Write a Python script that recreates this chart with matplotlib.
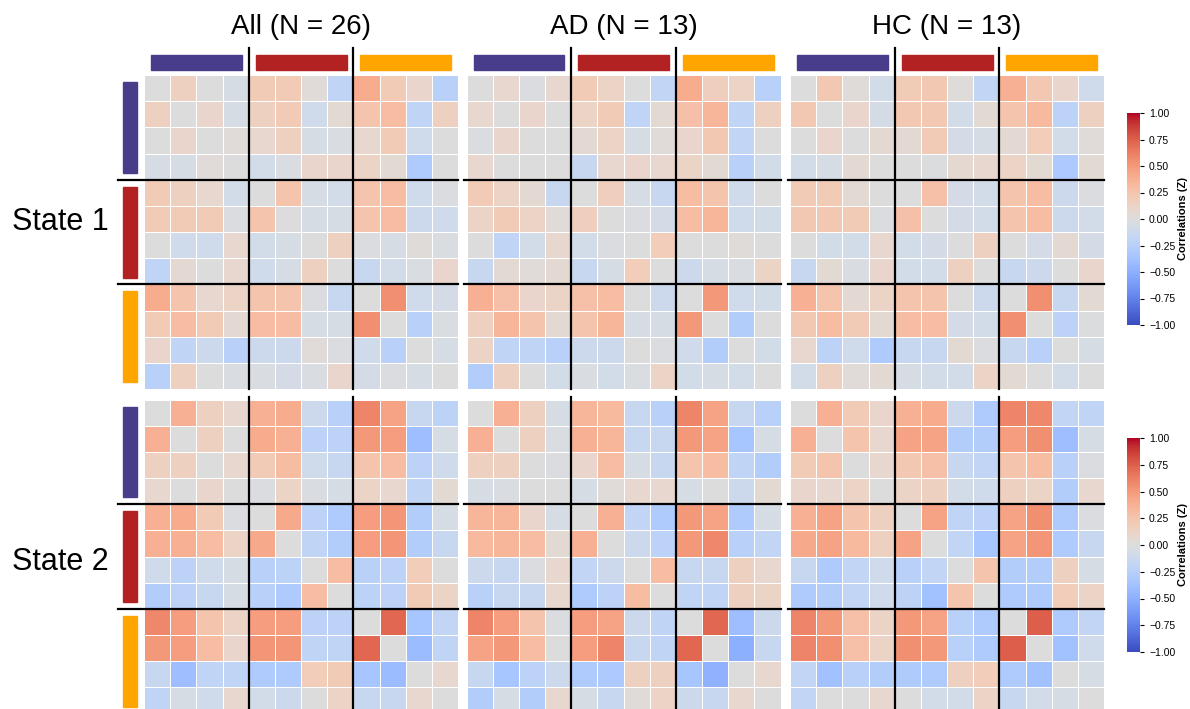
import numpy as np
import matplotlib
matplotlib.use("Agg")
import matplotlib.pyplot as plt
from matplotlib.patches import Rectangle

plt.rcParams['font.family'] = ['Liberation Sans', 'DejaVu Sans']

# group labels / colours for the three networks (4 regions each)
group_colors = ['#483D8B', '#B22222', '#FFA500']
col_titles = ['All (N = 26)', 'AD (N = 13)', 'HC (N = 13)']
row_titles = ['State 1', 'State 2']

# State 1 correlation matrices
s1_all = [
    [0, 0.15, 0, -0.05, 0.2, 0.2, 0.03, -0.2, 0.4, 0.2, 0.1, -0.25],
    [0.15, 0, 0.1, -0.05, 0.15, 0.2, -0.1, 0.05, 0.25, 0.3, -0.2, 0.15],
    [0, 0.1, 0, 0.03, 0.08, 0.15, -0.05, -0.03, 0.08, 0.2, -0.1, 0],
    [-0.05, -0.05, 0.03, 0, -0.08, -0.03, 0.1, 0.1, 0.12, 0.05, -0.3, 0],
    [0.2, 0.15, 0.08, -0.08, 0, 0.25, -0.05, -0.08, 0.25, 0.3, -0.1, -0.02],
    [0.2, 0.2, 0.2, -0.02, 0.25, 0, -0.05, -0.05, 0.25, 0.3, -0.12, -0.1],
    [0, -0.1, -0.1, 0.08, -0.08, -0.05, 0, 0.15, -0.02, -0.05, 0.02, -0.03],
    [-0.2, 0.06, 0, 0.08, -0.1, -0.05, 0.15, 0, -0.15, -0.08, -0.03, 0.1],
    [0.4, 0.25, 0.08, 0.12, 0.25, 0.25, -0.02, -0.15, 0, 0.55, -0.1, -0.07],
    [0.2, 0.3, 0.2, 0.06, 0.3, 0.3, -0.05, -0.05, 0.55, 0, -0.25, -0.03],
    [0.1, -0.2, -0.12, -0.25, -0.12, -0.12, 0.03, -0.02, -0.1, -0.25, 0, -0.05],
    [-0.25, 0.15, 0, -0.03, -0.03, -0.07, -0.03, 0.1, -0.07, -0.02, -0.05, 0],
]
s1_ad = [
    [0, 0.08, -0.02, 0.08, 0.2, 0.12, 0, -0.18, 0.4, 0.17, 0.12, -0.25],
    [0.08, 0, 0.1, 0, 0.12, 0.2, -0.2, 0.05, 0.28, 0.35, -0.2, 0.15],
    [-0.02, 0.1, 0, 0, 0.06, 0.12, -0.05, 0.03, 0.1, 0.22, -0.18, 0],
    [0.08, 0, 0, 0, -0.15, 0.08, 0.1, 0.08, 0.12, 0.05, -0.25, -0.08],
    [0.2, 0.12, 0.06, -0.15, 0, 0.17, -0.05, -0.15, 0.3, 0.25, -0.1, 0],
    [0.12, 0.2, 0.12, 0.03, 0.17, 0, -0.02, -0.07, 0.3, 0.35, -0.1, -0.08],
    [0, -0.2, -0.08, 0.08, -0.08, -0.02, 0, 0.18, 0, 0, 0.02, 0],
    [-0.15, 0.05, 0.03, 0.06, -0.15, -0.05, 0.18, 0, -0.12, -0.05, -0.03, 0.12],
    [0.38, 0.28, 0.1, 0.12, 0.28, 0.3, 0, -0.12, 0, 0.5, -0.1, -0.08],
    [0.15, 0.35, 0.25, 0.05, 0.25, 0.35, -0.05, -0.05, 0.5, 0, -0.28, 0],
    [0.12, -0.2, -0.2, -0.25, -0.12, -0.12, 0, -0.02, -0.1, -0.28, 0, -0.08],
    [-0.28, 0.15, 0, -0.08, -0.03, -0.08, -0.03, 0.12, -0.08, -0.05, -0.08, 0],
]
s1_hc = [
    [0, 0.22, 0.02, -0.08, 0.2, 0.22, 0.02, -0.18, 0.38, 0.22, 0.1, -0.1],
    [0.22, 0, 0.1, -0.06, 0.22, 0.22, -0.08, 0.05, 0.25, 0.32, -0.22, 0.15],
    [0, 0.1, 0, 0.06, 0.06, 0.2, -0.07, -0.05, 0.06, 0.18, -0.08, 0.03],
    [-0.08, -0.05, 0.06, 0, 0, -0.01, 0.07, 0.08, 0.12, 0.05, -0.32, 0.05],
    [0.2, 0.2, 0.05, 0, 0, 0.28, -0.07, -0.08, 0.25, 0.3, -0.12, -0.02],
    [0.22, 0.22, 0.2, -0.02, 0.28, 0, -0.07, -0.08, 0.25, 0.3, -0.12, -0.08],
    [0, -0.08, -0.08, 0.08, -0.08, -0.07, 0, 0.15, 0, -0.07, 0.06, -0.07],
    [-0.15, 0.05, -0.03, 0.1, -0.08, -0.08, 0.15, 0, -0.15, -0.12, 0, 0.1],
    [0.38, 0.25, 0.06, 0.12, 0.25, 0.25, 0, -0.12, 0, 0.55, -0.15, 0.05],
    [0.22, 0.3, 0.2, 0.05, 0.3, 0.3, -0.07, -0.08, 0.55, 0, -0.22, -0.01],
    [0.08, -0.22, -0.1, -0.3, -0.15, -0.15, 0.05, -0.02, -0.15, -0.25, 0, -0.05],
    [-0.08, 0.15, 0.03, 0.05, -0.05, -0.08, -0.08, 0.12, 0.05, 0, -0.08, 0],
]

# State 2 correlation matrices
s2_all = [
    [0, 0.38, 0.15, 0.08, 0.38, 0.4, -0.12, -0.25, 0.6, 0.45, -0.15, -0.22],
    [0.38, 0, 0.15, 0, 0.4, 0.38, -0.22, -0.22, 0.5, 0.48, -0.4, -0.05],
    [0.15, 0.15, 0, 0.08, 0.2, 0.3, -0.1, -0.15, 0.25, 0.3, -0.22, -0.1],
    [0.08, 0, 0.1, 0, -0.02, 0.12, -0.03, -0.05, 0.12, 0.08, -0.2, 0.05],
    [0.38, 0.4, 0.2, -0.02, 0, 0.42, -0.22, -0.3, 0.48, 0.52, -0.28, -0.05],
    [0.38, 0.38, 0.3, 0.12, 0.42, 0, -0.2, -0.28, 0.48, 0.52, -0.28, -0.15],
    [-0.1, -0.22, -0.1, -0.05, -0.25, -0.22, 0, 0.3, -0.25, -0.22, 0.18, 0],
    [-0.28, -0.22, -0.15, -0.05, -0.25, -0.3, 0.3, 0, -0.22, -0.22, 0.2, 0.12],
    [0.58, 0.48, 0.25, 0.12, 0.48, 0.48, -0.22, -0.22, 0, 0.72, -0.35, -0.18],
    [0.5, 0.48, 0.3, 0.1, 0.52, 0.52, -0.2, -0.2, 0.72, 0, -0.42, -0.2],
    [-0.15, -0.4, -0.2, -0.2, -0.3, -0.3, 0.18, 0.2, -0.35, -0.42, 0, 0.08],
    [-0.2, -0.05, -0.1, 0.08, -0.08, -0.12, 0, 0.12, -0.15, -0.15, 0.08, 0],
]
s2_ad = [
    [0, 0.38, 0.15, -0.05, 0.35, 0.32, -0.15, -0.25, 0.6, 0.45, -0.15, -0.25],
    [0.38, 0, 0.15, -0.03, 0.38, 0.35, -0.15, -0.15, 0.5, 0.45, -0.35, -0.05],
    [0.15, 0.15, 0, -0.02, 0.1, 0.3, -0.05, -0.15, 0.25, 0.3, -0.2, -0.28],
    [-0.05, -0.03, 0, 0, -0.05, 0.03, 0.08, 0.08, -0.05, 0, -0.12, 0.05],
    [0.35, 0.35, 0.1, -0.05, 0, 0.38, -0.18, -0.3, 0.5, 0.45, -0.3, -0.05],
    [0.32, 0.35, 0.3, 0.05, 0.38, 0, -0.12, -0.22, 0.5, 0.58, -0.25, -0.18],
    [-0.12, -0.15, -0.02, 0.08, -0.18, -0.12, 0, 0.3, -0.15, -0.15, 0.15, 0.08],
    [-0.25, -0.15, -0.15, 0.08, -0.3, -0.22, 0.3, 0, -0.2, -0.2, 0.15, 0.12],
    [0.6, 0.48, 0.25, -0.02, 0.48, 0.45, -0.12, -0.2, 0, 0.72, -0.4, -0.12],
    [0.45, 0.5, 0.3, 0, 0.48, 0.6, -0.15, -0.2, 0.72, 0, -0.5, -0.15],
    [-0.15, -0.35, -0.22, -0.12, -0.3, -0.32, 0.15, 0.15, -0.35, -0.48, 0, 0.08],
    [-0.28, -0.05, -0.28, 0.08, -0.05, -0.15, 0.03, 0.12, -0.12, -0.15, 0.08, 0],
]
s2_hc = [
    [0, 0.38, 0.2, 0.1, 0.38, 0.4, -0.12, -0.3, 0.6, 0.58, -0.18, -0.2],
    [0.38, 0, 0.25, 0.08, 0.45, 0.45, -0.28, -0.28, 0.48, 0.55, -0.4, -0.05],
    [0.2, 0.25, 0, 0.08, 0.22, 0.28, -0.15, -0.18, 0.25, 0.3, -0.25, -0.02],
    [0.1, 0.08, 0.12, 0, 0.12, 0.15, -0.08, -0.1, 0.15, 0.12, -0.28, 0.08],
    [0.38, 0.45, 0.25, 0.15, 0, 0.45, -0.2, -0.22, 0.45, 0.55, -0.3, -0.02],
    [0.42, 0.45, 0.32, 0.15, 0.45, 0, -0.18, -0.35, 0.45, 0.52, -0.3, -0.15],
    [-0.15, -0.3, -0.18, -0.1, -0.25, -0.18, 0, 0.25, -0.28, -0.28, 0.15, -0.05],
    [-0.3, -0.28, -0.18, -0.1, -0.22, -0.38, 0.25, 0, -0.3, -0.3, 0.18, 0.12],
    [0.6, 0.5, 0.28, 0.12, 0.5, 0.45, -0.25, -0.3, 0, 0.75, -0.3, -0.18],
    [0.6, 0.55, 0.28, 0.12, 0.55, 0.5, -0.25, -0.3, 0.75, 0, -0.38, -0.1],
    [-0.18, -0.38, -0.25, -0.28, -0.3, -0.3, 0.15, 0.18, -0.3, -0.38, 0, -0.05],
    [-0.18, 0, 0, 0.08, 0, -0.08, -0.08, 0.12, -0.15, -0.08, -0.05, 0],
]

matrices = [[s1_all, s1_ad, s1_hc], [s2_all, s2_ad, s2_hc]]

W, H = 1190, 709
fig = plt.figure(figsize=(W / 100, H / 100), dpi=100)

# panel placement in pixels (left, top) and size
col_x = [144, 466.5, 790]
row_y = [75, 399.5]
size = 314
cbar_y = [(113, 325), (438, 652)]

n = 12
for r in range(2):
    for c in range(3):
        ax = fig.add_axes([col_x[c] / W, (H - row_y[r] - size) / H, size / W, size / H])
        data = np.array(matrices[r][c])
        mesh = ax.pcolormesh(data, cmap='coolwarm', vmin=-1, vmax=1,
                             edgecolors='white', linewidth=0.7)
        ax.set_xlim(0, n)
        ax.set_ylim(n, 0)
        ax.set_xticks([])
        ax.set_yticks([])
        for s in ax.spines.values():
            s.set_visible(False)

        # separator lines between the networks
        top_ext = -1.03 if r == 0 else -0.08
        left_ext = -0.99 if c == 0 else -0.08
        for k in (4, 8):
            ax.plot([k, k], [top_ext, n], color='black', lw=1.6, clip_on=False)
            ax.plot([left_ext, n], [k, k], color='black', lw=1.6, clip_on=False)

        # network colour bars
        for g, gc in enumerate(group_colors):
            if r == 0:
                ax.add_patch(Rectangle((4 * g + 0.27, -0.76), 3.47, 0.57,
                                       color=gc, clip_on=False))
            if c == 0:
                ax.add_patch(Rectangle((-0.80, 4 * g + 0.27), 0.53, 3.47,
                                       color=gc, clip_on=False))

        if r == 0:
            ax.text(n / 2, -1.85, col_titles[c], ha='center', va='center', fontsize=20)
        if c == 0:
            ax.text(-5.05, 5.6 if r == 0 else 6.2, row_titles[r], ha='left', va='center',
                    fontsize=22)

    y0, y1 = cbar_y[r]
    cax = fig.add_axes([1127 / W, (H - y1) / H, 13 / W, (y1 - y0) / H])
    cb = fig.colorbar(mesh, cax=cax, ticks=np.linspace(-1, 1, 9))
    cb.outline.set_visible(False)
    cb.ax.tick_params(labelsize=7.5, length=3, width=0.8)
    cb.ax.set_yticklabels(['\u22121.00', '\u22120.75', '\u22120.50', '\u22120.25',
                           '0.00', '0.25', '0.50', '0.75', '1.00'])
    cb.set_label('Correlations (Z)', fontsize=8, fontweight='bold', labelpad=2)

fig.savefig('out.png', dpi=100)
